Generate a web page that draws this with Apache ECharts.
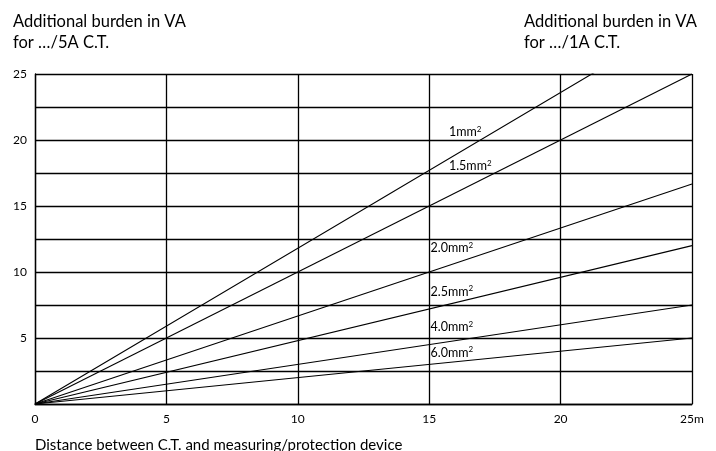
<!DOCTYPE html>
<html>
<head>
<meta charset="utf-8">
<script src="https://cdn.jsdelivr.net/npm/echarts@6/dist/echarts.min.js"></script>
<style>html,body{margin:0;padding:0;background:#fff;}#c{width:716px;height:451px;}</style>
</head>
<body>
<div id="c"></div>
<script>
// Distance (m) and burden (VA) at line ends
const distances = [0, 25];
const burden1mm = [0, 29.5];
const burden1_5mm = [0, 25];
const burden2_0mm = [0, 16.67];
const burden2_5mm = [0, 12];
const burden4_0mm = [0, 7.5];
const burden6_0mm = [0, 5];
const seriesNames = ['1mm', '1.5mm', '2.0mm', '2.5mm', '4.0mm', '6.0mm'];
const seriesValues = [burden1mm, burden1_5mm, burden2_0mm, burden2_5mm, burden4_0mm, burden6_0mm];
const xTicks = [0, 5, 10, 15, 20, 25];
const yTickLabels = [5, 10, 15, 20, 25];

// label anchors in data units (left edge of each label)
const labelAnchors = [[15.75, 20.6], [15.75, 18.0], [15.05, 11.8], [15.05, 8.5], [15.05, 5.8], [15.05, 3.9]];

const font = 'Lato';
const chart = echarts.init(document.getElementById('c'));
chart.setOption({
  animation: false,
  backgroundColor: '#fff',
  title: [
    {text: 'Additional burden in VA\nfor …/5A C.T.', left: 8, top: 6,
     textStyle: {fontFamily: font, fontSize: 16.5, fontWeight: 'normal', color: '#000', lineHeight: 21}},
    {text: 'Additional burden in VA\nfor …/1A C.T.', left: 519, top: 6,
     textStyle: {fontFamily: font, fontSize: 16.5, fontWeight: 'normal', color: '#000', lineHeight: 21}},
    {text: 'Distance between C.T. and measuring/protection device', left: 30, top: 433,
     textStyle: {fontFamily: font, fontSize: 15, fontWeight: 'normal', color: '#000'}}
  ],
  grid: {left: 35, right: 24, top: 74, bottom: 47},
  xAxis: {
    type: 'value', min: 0, max: 25, interval: 5,
    axisLine: {show: true, lineStyle: {color: '#000', width: 1.3}},
    axisTick: {show: false},
    axisLabel: {fontFamily: font, fontSize: 12, color: '#000', margin: 9,
      formatter: v => xTicks.includes(v) ? (v === 25 ? '25m' : String(v)) : ''},
    splitLine: {show: true, lineStyle: {color: '#000', width: 1.3}}
  },
  yAxis: {
    type: 'value', min: 0, max: 25, interval: 2.5,
    axisLine: {show: true, lineStyle: {color: '#000', width: 1.3}},
    axisTick: {show: false},
    axisLabel: {fontFamily: font, fontSize: 12, color: '#000', margin: 8,
      formatter: v => yTickLabels.includes(v) ? String(v) : ''},
    splitLine: {show: true, lineStyle: {color: '#000', width: 1.3}}
  },
  series: seriesNames.map((name, i) => ({
    name: name + '²',
    type: 'line',
    clip: true,
    symbol: 'none',
    lineStyle: {color: '#000', width: 1.1},
    data: distances.map((d, j) => [d, seriesValues[i][j]]),
    markPoint: {
      symbol: 'circle', symbolSize: 0,
      label: {show: true, position: 'right', distance: 0,
        formatter: '{a|' + name + '}{s|2}',
        rich: {
          a: {fontFamily: font, fontSize: 12.5, color: '#000'},
          s: {fontFamily: font, fontSize: 8, color: '#000', padding: [0, 0, 6, 0]}
        }},
      data: [{coord: labelAnchors[i]}]
    }
  }))
});
</script>
</body>
</html>
